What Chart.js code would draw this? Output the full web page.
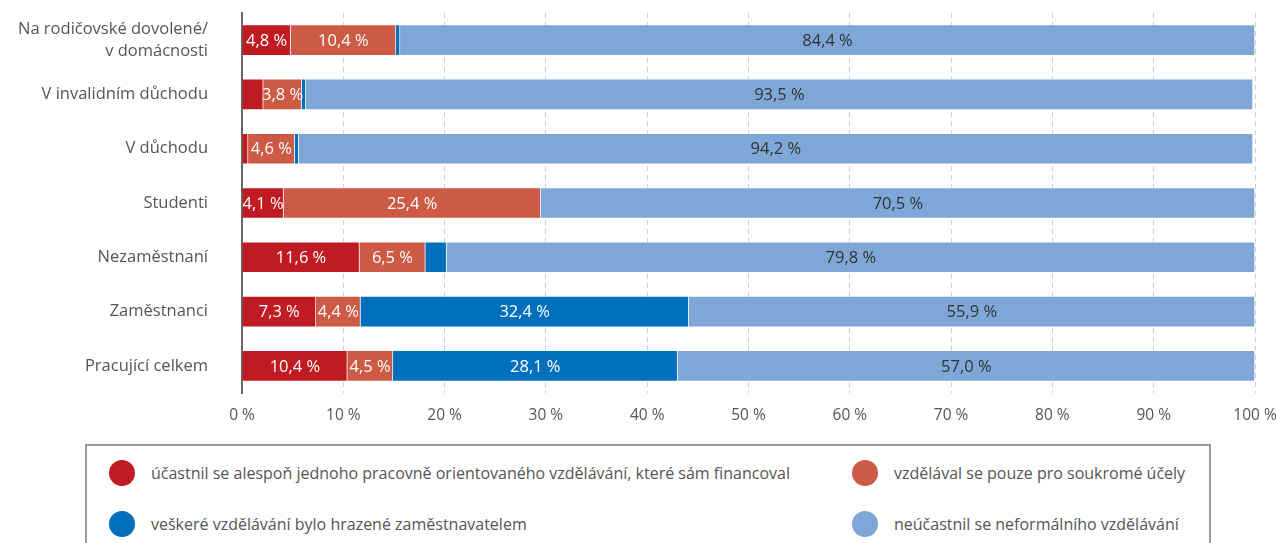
<!DOCTYPE html>
<html lang="cs">
<head>
    <meta charset="UTF-8">
    <title>Účast na neformálním vzdělávání</title>
    <script src="https://cdn.jsdelivr.net/npm/chart.js@4.4.1/dist/chart.umd.min.js"></script>
    <style>
        body { margin: 0; background: #fff; font-family: "Open Sans", sans-serif; }
        #wrap { position: relative; width: 1276px; height: 543px; overflow: hidden; }
        #chartBox { position: absolute; left: 0; top: 0; width: 1276px; height: 440px; }
        #legend {
            position: absolute; left: 85px; top: 444px; width: 1126px; height: 120px;
            border: 2px solid #999; box-sizing: border-box;
        }
        .item { position: absolute; display: flex; align-items: center; color: #555; font-size: 16px; }
        .dot { width: 26px; height: 26px; border-radius: 50%; margin-right: 16px; }
    </style>
</head>
<body>
<div id="wrap">
    <div id="chartBox"><canvas id="chart"></canvas></div>
    <div id="legend"></div>
</div>
<script>
const categories = [
    ['Na rodičovské dovolené/', 'v domácnosti'],
    'V invalidním důchodu',
    'V důchodu',
    'Studenti',
    'Nezaměstnaní',
    'Zaměstnanci',
    'Pracující celkem'
];
const seriesNames = [
    'účastnil se alespoň jednoho pracovně orientovaného vzdělávání, které sám financoval',
    'vzdělával se pouze pro soukromé účely',
    'veškeré vzdělávání bylo hrazené zaměstnavatelem',
    'neúčastnil se neformálního vzdělávání'
];
const selfPaid   = [4.8, 2.1, 0.6, 4.1, 11.6, 7.3, 10.4];
const privateOnly = [10.4, 3.8, 4.6, 25.4, 6.5, 4.4, 4.5];
const employerPaid = [0.4, 0.4, 0.4, 0.0, 2.1, 32.4, 28.1];
const none = [84.4, 93.5, 94.2, 70.5, 79.8, 55.9, 57.0];
const colors = ['#c01b22', '#cd5a45', '#0070bd', '#7ea7d8'];
const labelColors = ['#fff', '#fff', '#fff', '#333'];
const xTicks = [0, 10, 20, 30, 40, 50, 60, 70, 80, 90, 100];

const fmt = v => v.toFixed(1).replace('.', ',') + ' %';

// values drawn in the middle of each segment
const segmentLabels = {
    id: 'segmentLabels',
    afterDatasetsDraw(chart) {
        const ctx = chart.ctx;
        ctx.save();
        ctx.font = '16.5px "Open Sans"';
        ctx.textAlign = 'center';
        ctx.textBaseline = 'middle';
        chart.data.datasets.forEach((ds, i) => {
            chart.getDatasetMeta(i).data.forEach((bar, j) => {
                const v = ds.data[j];
                if (v < 3) return;
                ctx.fillStyle = labelColors[i];
                ctx.fillText(fmt(v), (bar.x + bar.base) / 2, bar.y + 1);
            });
        });
        ctx.restore();
    }
};

const allData = [selfPaid, privateOnly, employerPaid, none];

new Chart(document.getElementById('chart'), {
    type: 'bar',
    data: {
        labels: categories,
        datasets: allData.map((d, i) => ({
            label: seriesNames[i],
            data: d,
            backgroundColor: colors[i],
            borderColor: 'rgba(255,255,255,0.3)',
            borderWidth: 1,
            barThickness: 31
        }))
    },
    options: {
        indexAxis: 'y',
        responsive: true,
        maintainAspectRatio: false,
        animation: false,
        layout: { padding: { top: 13, right: 21, left: 0, bottom: 0 } },
        scales: {
            x: {
                stacked: true,
                min: 0,
                max: 100,
                afterBuildTicks: s => { s.ticks = xTicks.map(v => ({ value: v })); },
                afterFit: s => { s.height = 47; s.paddingLeft = 0; s.paddingRight = 0; },
                border: { display: false, dash: [5, 4] },
                grid: {
                    color: c => c.tick.value === 0 ? 'rgba(0,0,0,0)' : '#cfcfcf',
                    drawTicks: false
                },
                ticks: {
                    padding: 13,
                    color: '#555',
                    font: { family: 'Open Sans', size: 15.5 },
                    callback: v => v + ' %'
                }
            },
            y: {
                stacked: true,
                afterFit: s => { s.width = 242; s.paddingTop = 0; s.paddingBottom = 0; },
                border: { color: '#666', width: 2 },
                grid: { display: false },
                ticks: {
                    padding: 26,
                    color: '#555',
                    font: { family: 'Open Sans', size: 16.5, lineHeight: 1.35 }
                }
            }
        },
        plugins: {
            legend: { display: false },
            tooltip: { enabled: false }
        }
    },
    plugins: [segmentLabels]
});

// legend laid out in two columns like the original
const legend = document.getElementById('legend');
const pos = [[22, 14], [765, 14], [22, 65], [765, 65]];
seriesNames.forEach((name, i) => {
    const el = document.createElement('div');
    el.className = 'item';
    el.style.left = pos[i][0] + 'px';
    el.style.top = pos[i][1] + 'px';
    el.innerHTML = '<span class="dot" style="background:' + colors[i] + '"></span>' + name;
    legend.appendChild(el);
});
</script>
</body>
</html>
